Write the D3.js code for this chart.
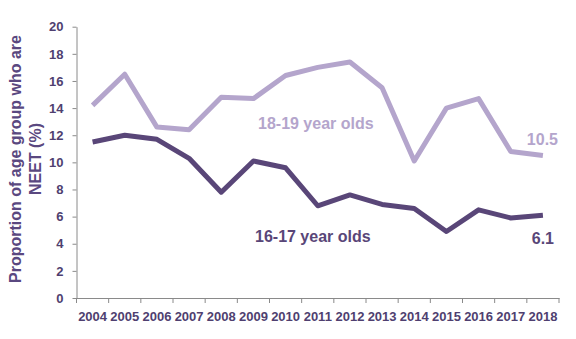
<!DOCTYPE html>
<html>
<head>
<meta charset="utf-8">
<script src="https://cdn.jsdelivr.net/npm/d3@7"></script>
<style>
  html, body { margin: 0; padding: 0; background: #fff; }
  svg { display: block; font-family: "Liberation Sans", Arial, sans-serif; }
</style>
</head>
<body>
<svg id="chart" width="576" height="339"></svg>
<script>
const years = ["2004","2005","2006","2007","2008","2009","2010","2011","2012","2013","2014","2015","2016","2017","2018"];
const age1819 = [14.2, 16.5, 12.6, 12.4, 14.8, 14.7, 16.4, 17.0, 17.4, 15.5, 10.1, 14.0, 14.7, 10.8, 10.5];
const age1617 = [11.5, 12.0, 11.7, 10.3, 7.8, 10.1, 9.6, 6.8, 7.6, 6.9, 6.6, 4.9, 6.5, 5.9, 6.1];
const yTicks = [0, 2, 4, 6, 8, 10, 12, 14, 16, 18, 20];

(function () {
const svg = d3.select("#chart");
const plotLeft = 76.5, plotRight = 559, plotTop = 26.7, plotBottom = 298;
const textCol = "#4f3f70";
const lightCol = "#b4a5cc";
const darkCol = "#594678";
const axisCol = "#8a8a8a";

const x = d3.scaleBand().domain(years).range([plotLeft, plotRight]).padding(0);
const y = d3.scaleLinear().domain([0, 20]).range([plotBottom, plotTop]);

// Y axis
const yAxis = svg.append("g").attr("transform", `translate(${plotLeft},0)`)
  .call(d3.axisLeft(y).tickValues(yTicks).tickSize(4).tickPadding(9).tickSizeOuter(0));
yAxis.select(".domain").attr("stroke", axisCol);
yAxis.selectAll(".tick line").attr("stroke", axisCol);
yAxis.selectAll(".tick text").attr("fill", textCol).attr("font-size", 13).attr("font-weight", "bold")
  .attr("font-family", "Liberation Sans, Arial, sans-serif");

// X axis
const xAxis = svg.append("g").attr("transform", `translate(0,${plotBottom})`)
  .call(d3.axisBottom(x).tickSize(0).tickPadding(14).tickSizeOuter(0));
xAxis.select(".domain").attr("stroke", axisCol);
xAxis.selectAll(".tick text").attr("fill", textCol).attr("font-size", 13).attr("font-weight", "bold")
  .attr("font-family", "Liberation Sans, Arial, sans-serif");
// boundary ticks
const bounds = years.map(d => x(d)).concat([x(years[years.length - 1]) + x.bandwidth()]);
xAxis.selectAll("line.bt").data(bounds).enter().append("line")
  .attr("class", "bt")
  .attr("x1", d => d).attr("x2", d => d)
  .attr("y1", 0).attr("y2", 5)
  .attr("stroke", axisCol);

// Lines
const line = d3.line()
  .x((d, i) => x(years[i]) + x.bandwidth() / 2)
  .y(d => y(d));

svg.append("path").datum(age1819)
  .attr("d", line).attr("fill", "none").attr("stroke", lightCol)
  .attr("stroke-width", 5).attr("stroke-linejoin", "round");
svg.append("path").datum(age1617)
  .attr("d", line).attr("fill", "none").attr("stroke", darkCol)
  .attr("stroke-width", 5).attr("stroke-linejoin", "round");

// Series labels
svg.append("text").attr("x", 258).attr("y", 129)
  .attr("fill", lightCol).attr("font-size", 16).attr("font-weight", "bold")
  .text("18-19 year olds");
svg.append("text").attr("x", 255).attr("y", 242)
  .attr("fill", darkCol).attr("font-size", 16).attr("font-weight", "bold")
  .text("16-17 year olds");

// End value labels
svg.append("text").attr("x", 558).attr("y", 145).attr("text-anchor", "end")
  .attr("fill", lightCol).attr("font-size", 16).attr("font-weight", "bold")
  .text(age1819[age1819.length - 1].toFixed(1));
svg.append("text").attr("x", 554).attr("y", 243.5).attr("text-anchor", "end")
  .attr("fill", darkCol).attr("font-size", 16).attr("font-weight", "bold")
  .text(age1617[age1617.length - 1].toFixed(1));

// Y title
const title = svg.append("text")
  .attr("transform", `translate(21,159) rotate(-90)`)
  .attr("text-anchor", "middle")
  .attr("fill", "#5a4880").attr("font-size", 16).attr("font-weight", "bold");
title.append("tspan").attr("x", 0).attr("dy", 0).text("Proportion of age group who are");
title.append("tspan").attr("x", 0).attr("dy", 20).text("NEET (%)");
})();
</script>
</body>
</html>
